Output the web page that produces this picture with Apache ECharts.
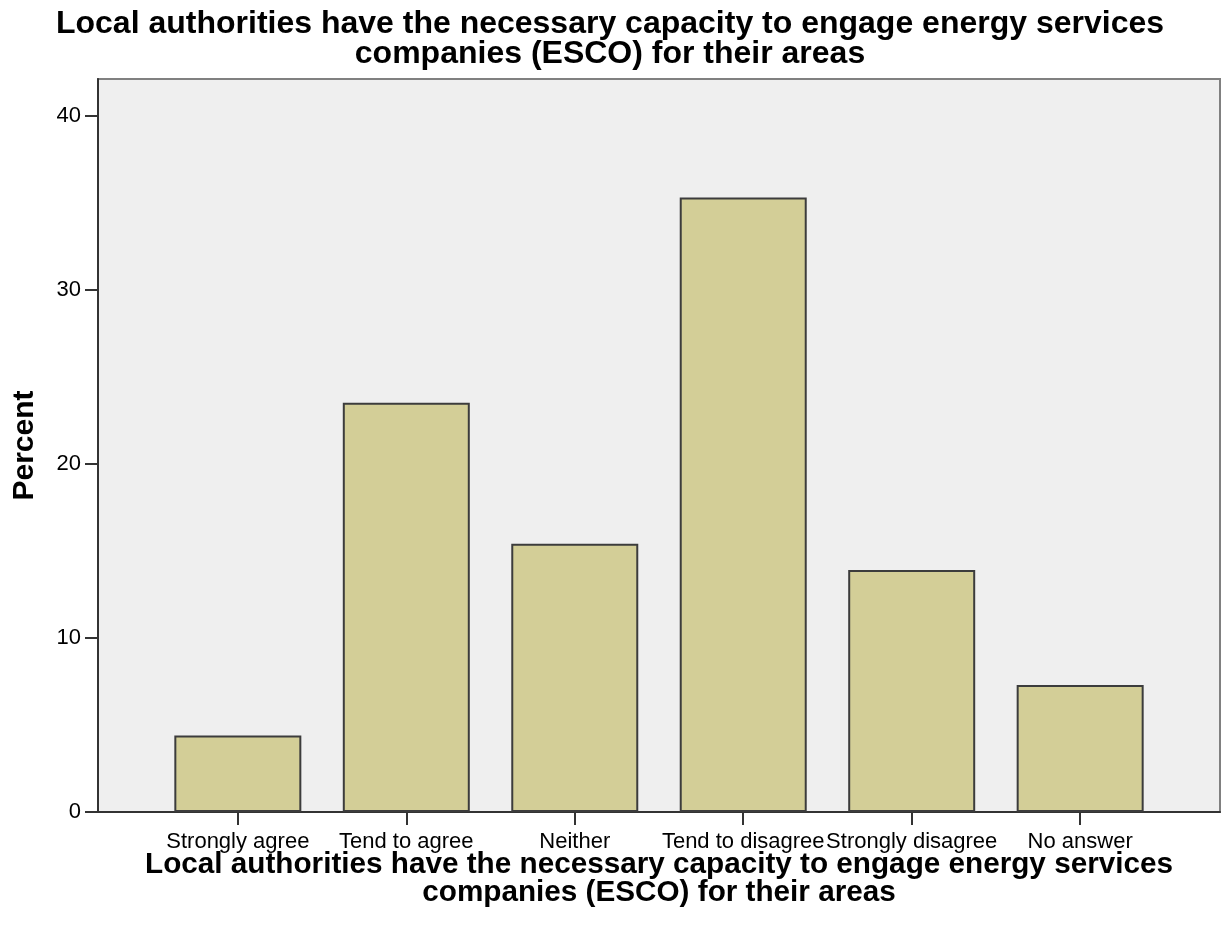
<!DOCTYPE html>
<html>
<head>
<meta charset="utf-8">
<style>
  html, body { margin: 0; padding: 0; background: #ffffff; }
  #chart { width: 1221px; height: 933px; }
</style>
<script src="https://cdn.jsdelivr.net/npm/echarts@6/dist/echarts.min.js"></script>
</head>
<body>
<div id="chart"></div>
<script>
// Survey responses: share of respondents per answer (percent)
const categories = ['Strongly agree', 'Tend to agree', 'Neither', 'Tend to disagree', 'Strongly disagree', 'No answer'];
const percents = [4.4, 23.5, 15.4, 35.3, 13.9, 7.3];
const yTicks = [0, 10, 20, 30, 40];

const titleText = 'Local authorities have the necessary capacity to engage energy services\ncompanies (ESCO) for their areas';
const FONT = '"Liberation Sans", Arial, sans-serif';

// category positions on a numeric x scale, with extra padding at both ends
const catIndex = categories.map((_, i) => i);

const chart = echarts.init(document.getElementById('chart'), null, { renderer: 'canvas' });

chart.setOption({
  animation: false,
  backgroundColor: '#ffffff',
  title: {
    text: titleText,
    left: 610,
    top: 9,
    textAlign: 'center',
    padding: 0,
    textStyle: {
      fontFamily: FONT,
      fontWeight: 'bold',
      fontSize: 32,
      lineHeight: 30,
      color: '#000000'
    }
  },
  grid: {
    left: 98,
    top: 79,
    width: 1122,
    height: 733,
    show: true,
    backgroundColor: '#efefef',
    borderColor: '#808080',
    borderWidth: 2
  },
  xAxis: {
    type: 'value',
    min: -0.83,
    max: 5.83,
    name: titleText,
    nameLocation: 'middle',
    nameGap: 39,
    nameMoveOverlap: false,
    nameTextStyle: {
      fontFamily: FONT,
      fontWeight: 'bold',
      fontSize: 29.7,
      lineHeight: 28,
      color: '#000000'
    },
    axisLine: { show: true, onZero: false, lineStyle: { color: '#333333', width: 2 } },
    axisTick: {
      show: true,
      length: 13,
      customValues: catIndex,
      lineStyle: { color: '#333333', width: 2 }
    },
    axisLabel: {
      customValues: catIndex,
      margin: 19,
      fontFamily: FONT,
      fontSize: 22,
      color: '#000000',
      formatter: v => categories[Math.round(v)] || ''
    },
    splitLine: { show: false }
  },
  yAxis: {
    type: 'value',
    min: 0,
    max: 42.1,
    name: 'Percent',
    nameLocation: 'middle',
    nameGap: 58,
    nameMoveOverlap: false,
    nameRotate: 90,
    nameTextStyle: {
      fontFamily: FONT,
      fontWeight: 'bold',
      fontSize: 30,
      color: '#000000'
    },
    axisLine: { show: true, onZero: false, lineStyle: { color: '#333333', width: 2 } },
    axisTick: {
      show: true,
      length: 13,
      customValues: yTicks,
      lineStyle: { color: '#333333', width: 2 }
    },
    axisLabel: {
      customValues: yTicks,
      margin: 17,
      fontFamily: FONT,
      fontSize: 22,
      color: '#000000'
    },
    splitLine: { show: false }
  },
  series: [{
    type: 'bar',
    data: catIndex.map(i => [i, percents[i]]),
    barWidth: 127,
    itemStyle: {
      color: '#d3ce97',
      borderColor: '#3c3c3c',
      borderWidth: 2
    }
  }]
});
</script>
</body>
</html>
